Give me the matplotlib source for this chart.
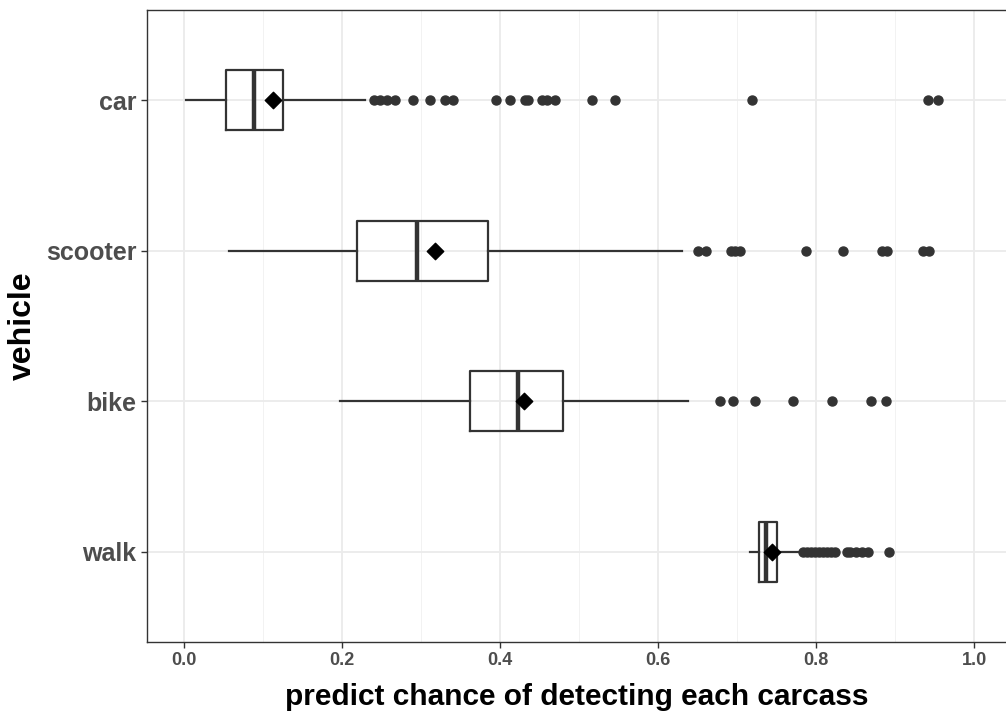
import matplotlib.pyplot as plt
from matplotlib import font_manager
import numpy as np

vehicles = ['car', 'scooter', 'bike', 'walk']
whislo = [0.003, 0.057, 0.198, 0.717]
q1 = [0.053, 0.219, 0.362, 0.728]
med = [0.089, 0.295, 0.423, 0.737]
q3 = [0.125, 0.385, 0.480, 0.751]
whishi = [0.229, 0.630, 0.638, 0.782]
means = [0.113, 0.318, 0.430, 0.744]

car_out = [0.240, 0.248, 0.257, 0.267, 0.290, 0.311, 0.330, 0.341, 0.395, 0.413,
           0.432, 0.436, 0.453, 0.459, 0.470, 0.517, 0.546, 0.719, 0.942, 0.954]
scooter_out = [0.651, 0.661, 0.693, 0.697, 0.704, 0.787, 0.834, 0.883, 0.890, 0.935, 0.943]
bike_out = [0.678, 0.695, 0.723, 0.771, 0.820, 0.869, 0.889]
walk_out = [0.784, 0.789, 0.794, 0.799, 0.804, 0.809, 0.814, 0.819, 0.824,
            0.839, 0.843, 0.851, 0.858, 0.866, 0.892]
outliers = [car_out, scooter_out, bike_out, walk_out]

names = {f.name for f in font_manager.fontManager.ttflist}
fam = 'Liberation Sans Narrow' if 'Liberation Sans Narrow' in names else 'Liberation Sans'
plt.rcParams['font.family'] = [fam, 'DejaVu Sans']

fig = plt.figure(figsize=(10.06, 7.11), dpi=100)
ax = fig.add_axes([0.146, 0.097, 0.854, 0.889])

pos = [4, 3, 2, 1]
stats = []
for i in range(len(vehicles)):
    stats.append(dict(whislo=whislo[i], q1=q1[i], med=med[i], q3=q3[i],
                      whishi=whishi[i], fliers=outliers[i], label=vehicles[i]))

ax.bxp(stats, positions=pos, vert=False, widths=0.4, showcaps=False,
       boxprops=dict(color='#333333', linewidth=1.6),
       whiskerprops=dict(color='#333333', linewidth=1.6),
       medianprops=dict(color='#333333', linewidth=3.2),
       flierprops=dict(marker='o', markerfacecolor='#333333', markeredgecolor='#333333',
                       markersize=6.5))
ax.scatter(means, pos, marker='D', s=70, color='black', zorder=5)

ax.set_xlim(-0.047, 1.0405)
ax.set_ylim(0.4, 4.6)
ax.set_xticks(np.arange(0, 1.01, 0.2))
ax.set_xticks(np.arange(0.1, 1.0, 0.2), minor=True)
ax.set_xticklabels(['0.0', '0.2', '0.4', '0.6', '0.8', '1.0'])
ax.set_yticks(pos)
ax.set_yticklabels(vehicles)

ax.grid(True, which='major', color='#ebebeb', linewidth=1.3)
ax.grid(True, which='minor', axis='x', color='#f2f2f2', linewidth=0.7)
ax.set_axisbelow(True)

for s in ['left', 'bottom', 'top']:
    ax.spines[s].set_color('#333333')
    ax.spines[s].set_linewidth(1.0)
ax.spines['right'].set_visible(False)

ax.tick_params(axis='both', which='major', colors='#333333', length=4, width=1,
               labelcolor='#4d4d4d', labelsize=13)
ax.tick_params(axis='x', which='minor', length=0)
for lab in ax.get_xticklabels() + ax.get_yticklabels():
    lab.set_fontweight('bold')
for lab in ax.get_yticklabels():
    lab.set_fontsize(18)

ax.set_xlabel('predict chance of detecting each carcass', fontsize=21.5, fontweight='bold', labelpad=10)
ax.set_ylabel('vehicle', fontsize=23, fontweight='bold', labelpad=6)

fig.savefig('out.png', dpi=100)
